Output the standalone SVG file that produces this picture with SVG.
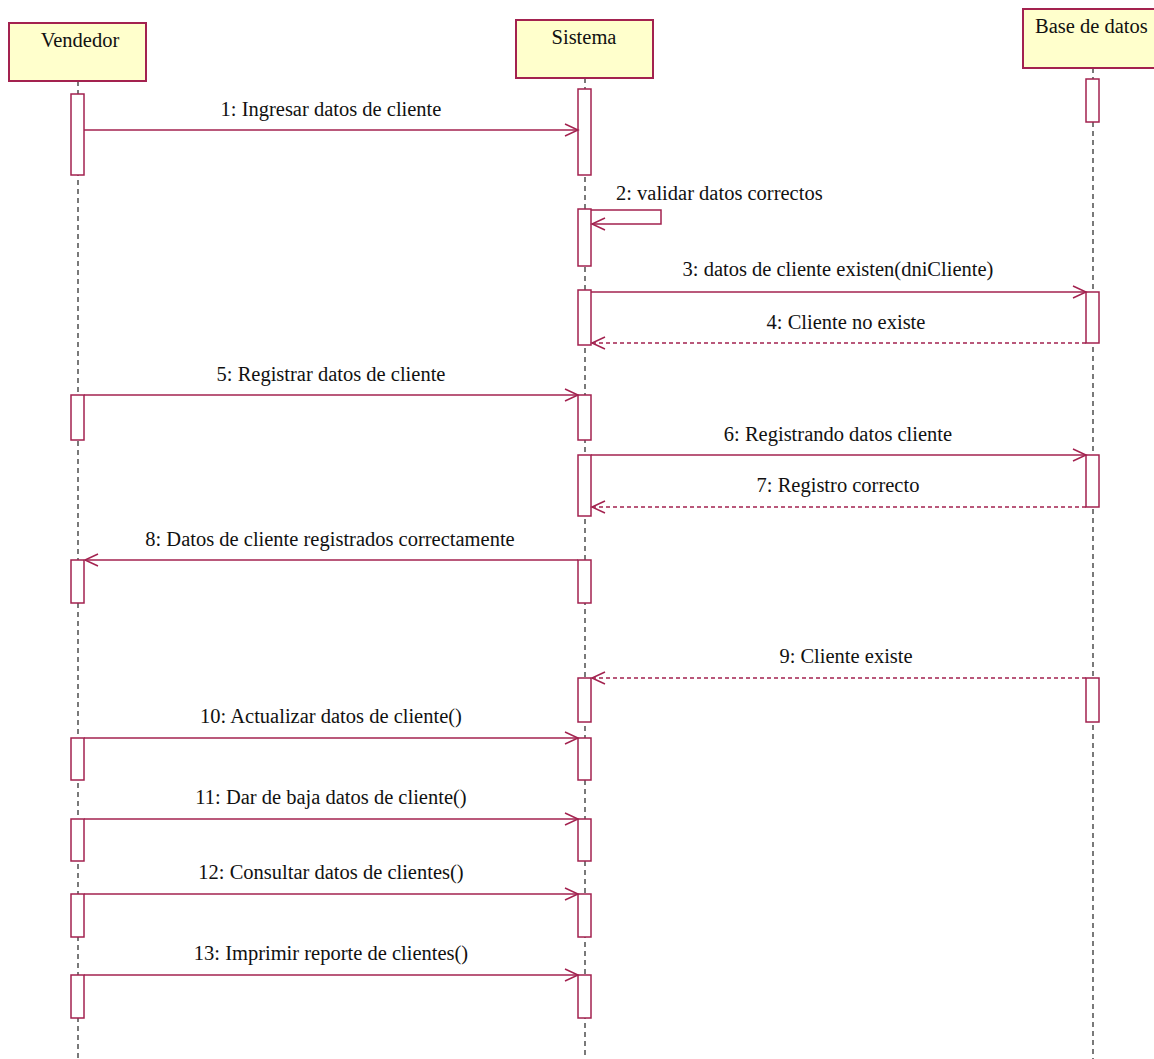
<svg xmlns="http://www.w3.org/2000/svg" width="1154" height="1059" viewBox="0 0 1154 1059">
<style>
.head{fill:#FFFFCC;stroke:#A3224F;stroke-width:2}
.act{fill:#FFFFFF;stroke:#A3224F;stroke-width:1.5}
.life{stroke:#222;stroke-width:1.2;stroke-dasharray:5,4;fill:none}
.msg{stroke:#A3224F;stroke-width:1.5;fill:none}
.ret{stroke:#A3224F;stroke-width:1.5;fill:none;stroke-dasharray:4,3}
text{font-family:'Liberation Serif','Times New Roman',serif;font-size:20.5px;fill:#111}
.c{text-anchor:middle}
</style>
<defs>
<marker id="arr" markerUnits="userSpaceOnUse" markerWidth="16" markerHeight="16" refX="14" refY="7" orient="auto" viewBox="0 0 16 14">
<path d="M1,1 L14,7 L1,13" fill="none" stroke="#A3224F" stroke-width="1.5"/>
</marker>
</defs>
<rect width="1154" height="1059" fill="#FFFFFF"/>
<g id="lifelines">
<line class="life" x1="78" y1="81" x2="78" y2="1059"/>
<line class="life" x1="585" y1="78" x2="585" y2="1059"/>
<line class="life" x1="1093" y1="68" x2="1093" y2="1059"/>
</g>
<g id="vendedor">
<rect class="head" x="9" y="23" width="137" height="58"/>
<text class="c" x="80" y="47">Vendedor</text>
<rect class="act" x="71" y="94" width="13" height="81"/>
<rect class="act" x="71" y="395" width="13" height="45"/>
<rect class="act" x="71" y="560" width="13" height="43"/>
<rect class="act" x="71" y="738" width="13" height="42"/>
<rect class="act" x="71" y="819" width="13" height="42"/>
<rect class="act" x="71" y="894" width="13" height="43"/>
<rect class="act" x="71" y="975" width="13" height="43"/>
</g>
<g id="sistema">
<rect class="head" x="516" y="20" width="137" height="58"/>
<text class="c" x="584" y="44">Sistema</text>
<rect class="act" x="578" y="89" width="13" height="86"/>
<rect class="act" x="578" y="209" width="13" height="57"/>
<rect class="act" x="578" y="290" width="13" height="55"/>
<rect class="act" x="578" y="395" width="13" height="45"/>
<rect class="act" x="578" y="455" width="13" height="61"/>
<rect class="act" x="578" y="560" width="13" height="43"/>
<rect class="act" x="578" y="678" width="13" height="44"/>
<rect class="act" x="578" y="738" width="13" height="42"/>
<rect class="act" x="578" y="819" width="13" height="42"/>
<rect class="act" x="578" y="894" width="13" height="43"/>
<rect class="act" x="578" y="975" width="13" height="43"/>
</g>
<g id="basedatos">
<rect class="head" x="1023" y="9" width="140" height="59"/>
<text x="1035" y="33">Base de datos</text>
<rect class="act" x="1086" y="79" width="13" height="43"/>
<rect class="act" x="1086" y="292" width="13" height="51"/>
<rect class="act" x="1086" y="455" width="13" height="52"/>
<rect class="act" x="1086" y="678" width="13" height="44"/>
</g>
<g id="connectors">
<line class="msg" x1="84" y1="130" x2="578" y2="130" marker-end="url(#arr)"/>
<path class="msg" d="M591,210 H661 V224 H592" marker-end="url(#arr)"/>
<line class="msg" x1="591" y1="292" x2="1086" y2="292" marker-end="url(#arr)"/>
<line class="ret" x1="1086" y1="343" x2="592" y2="343" marker-end="url(#arr)"/>
<line class="msg" x1="84" y1="395" x2="578" y2="395" marker-end="url(#arr)"/>
<line class="msg" x1="591" y1="455" x2="1086" y2="455" marker-end="url(#arr)"/>
<line class="ret" x1="1086" y1="507" x2="592" y2="507" marker-end="url(#arr)"/>
<line class="msg" x1="578" y1="560" x2="85" y2="560" marker-end="url(#arr)"/>
<line class="ret" x1="1086" y1="678" x2="592" y2="678" marker-end="url(#arr)"/>
<line class="msg" x1="84" y1="738" x2="578" y2="738" marker-end="url(#arr)"/>
<line class="msg" x1="84" y1="819" x2="578" y2="819" marker-end="url(#arr)"/>
<line class="msg" x1="84" y1="894" x2="578" y2="894" marker-end="url(#arr)"/>
<line class="msg" x1="84" y1="975" x2="578" y2="975" marker-end="url(#arr)"/>
</g>
<g id="labels">
<text class="c" x="331" y="116">1: Ingresar datos de cliente</text>
<text x="616" y="200">2: validar datos correctos</text>
<text class="c" x="838" y="276">3: datos de cliente existen(dniCliente)</text>
<text class="c" x="846" y="329">4: Cliente no existe</text>
<text class="c" x="331" y="381">5: Registrar datos de cliente</text>
<text class="c" x="838" y="441">6: Registrando datos cliente</text>
<text class="c" x="838" y="492">7: Registro correcto</text>
<text class="c" x="330" y="546">8: Datos de cliente registrados correctamente</text>
<text class="c" x="846" y="663">9: Cliente existe</text>
<text class="c" x="331" y="723">10: Actualizar datos de cliente()</text>
<text class="c" x="331" y="804">11: Dar de baja datos de cliente()</text>
<text class="c" x="331" y="879">12: Consultar datos de clientes()</text>
<text class="c" x="331" y="960">13: Imprimir reporte de clientes()</text>
</g>
</svg>
